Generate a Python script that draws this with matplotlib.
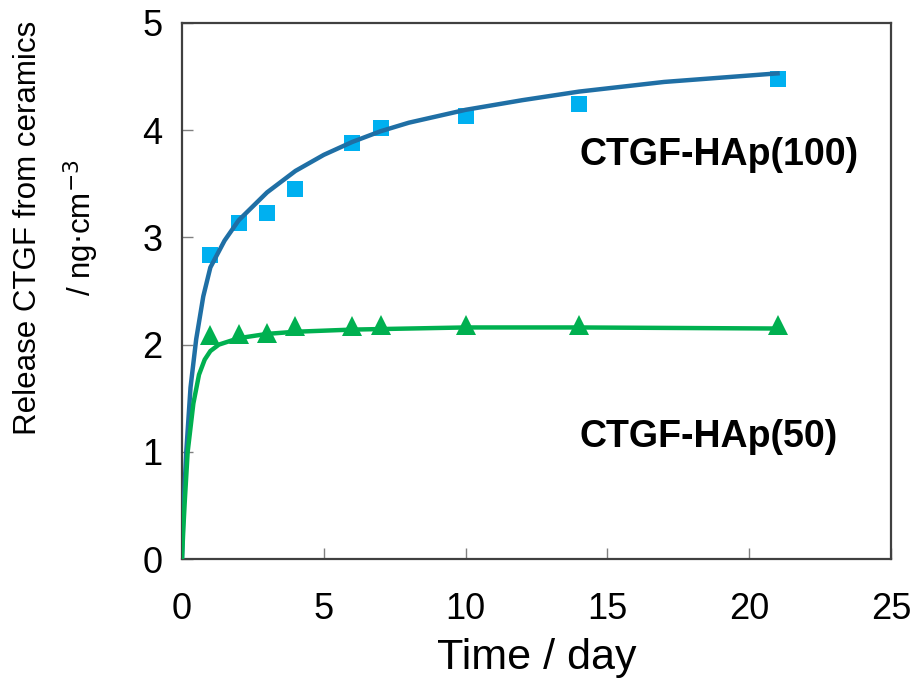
import matplotlib.pyplot as plt

# measured points
days = [1, 2, 3, 4, 6, 7, 10, 14, 21]
hap100 = [2.84, 3.13, 3.23, 3.45, 3.88, 4.02, 4.13, 4.24, 4.48]
hap50 = [2.09, 2.10, 2.11, 2.17, 2.17, 2.18, 2.18, 2.18, 2.18]

# fitted curves
fit100_t = [0, 0.05, 0.15, 0.3, 0.5, 0.75, 1, 1.5, 2, 3, 4, 5, 6, 7, 8, 10, 12, 14, 17, 21]
fit100_y = [0, 0.45, 1.0, 1.6, 2.05, 2.45, 2.72, 2.97, 3.16, 3.42, 3.62, 3.77, 3.89, 3.99, 4.07, 4.19, 4.28, 4.36, 4.45, 4.53]
fit50_t = [0, 0.05, 0.1, 0.2, 0.4, 0.6, 0.8, 1.0, 1.3, 2, 3, 4, 6, 8, 10, 14, 21]
fit50_y = [0, 0.3, 0.55, 1.0, 1.45, 1.72, 1.86, 1.94, 2.0, 2.06, 2.1, 2.12, 2.14, 2.15, 2.16, 2.16, 2.15]

xticks = [0, 5, 10, 15, 20, 25]
yticks = [0, 1, 2, 3, 4, 5]

plt.rcParams['font.family'] = ['Liberation Sans', 'DejaVu Sans']

fig = plt.figure(figsize=(9.16, 6.86), dpi=100)
ax = fig.add_axes([0.1987, 0.1851, 0.774, 0.7814])

ax.plot(fit100_t, fit100_y, color='#1f6fa5', lw=3.2, zorder=3)
ax.plot(days, hap100, 's', color='#00b0f0', ms=12, mew=0, zorder=2)
ax.plot(fit50_t, fit50_y, color='#00b050', lw=3.2, zorder=3)
ax.plot(days, hap50, '^', color='#00b050', ms=14, mew=0, zorder=2)

ax.set_xlim(0, 25)
ax.set_ylim(0, 5)
ax.set_xticks(xticks)
ax.set_yticks(yticks)
ax.tick_params(direction='in', length=8, width=1, color='#808080',
               labelsize=26, top=False, right=False)
ax.tick_params(axis='x', pad=24)
ax.tick_params(axis='y', pad=14)
for s in ax.spines.values():
    s.set_color('#404040')
    s.set_linewidth(1.6)

ax.set_xlabel('Time / day', fontsize=31, labelpad=8)
fig.text(0.062, 0.668, 'Release CTGF from ceramics\n/ ng$\\cdot$cm$^{-3}$',
         rotation=90, ha='center', va='center', fontsize=22.5,
         multialignment='center', linespacing=1.6)

ax.text(14.0, 3.77, 'CTGF-HAp(100)', fontsize=27, fontweight='bold',
        ha='left', va='center')
ax.text(14.0, 1.14, 'CTGF-HAp(50)', fontsize=27, fontweight='bold',
        ha='left', va='center')

fig.savefig('out.png', dpi=100)
